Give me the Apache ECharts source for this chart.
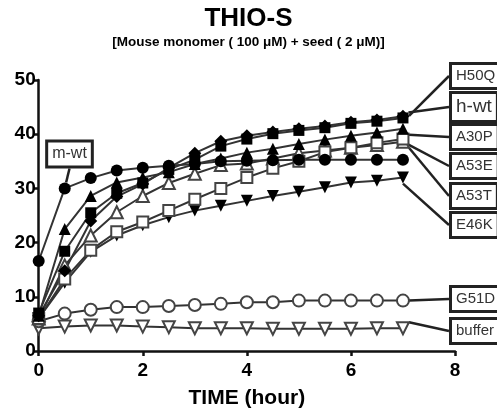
<!DOCTYPE html>
<html>
<head>
<meta charset="utf-8">
<script src="https://cdn.jsdelivr.net/npm/echarts@6/dist/echarts.min.js"></script>
<style>
html,body{margin:0;padding:0;background:#fff;}
#main{width:497px;height:414px;}
</style>
</head>
<body>
<div id="main"></div>
<script>
// ---- data ----
const times = [0, 0.5, 1, 1.5, 2, 2.5, 3, 3.5, 4, 4.5, 5, 5.5, 6, 6.5, 7];
const mwt    = [16.6, 30.0, 31.9, 33.3, 33.8, 34.2, 34.5, 35.0, 35.1, 35.2, 35.3, 35.3, 35.3, 35.3, 35.3];
const h50q   = [6.5, 14.8, 24.0, 28.5, 30.8, 33.8, 36.5, 38.7, 39.7, 40.4, 41.0, 41.5, 42.2, 42.6, 43.3];
const hwt    = [7.0, 18.4, 25.5, 29.1, 31.0, 33.5, 35.3, 37.8, 39.1, 40.1, 40.7, 41.2, 42.0, 42.4, 43.0];
const a30p   = [6.5, 22.5, 28.6, 31.1, 32.0, 33.0, 34.5, 35.5, 36.6, 37.3, 38.2, 39.0, 39.7, 40.3, 41.0];
const a53e   = [6.0, 13.3, 18.6, 22.0, 23.8, 25.9, 28.0, 30.0, 32.0, 33.7, 35.0, 36.7, 37.5, 38.4, 39.1];
const a53t   = [6.0, 15.8, 21.3, 25.6, 28.6, 31.0, 32.7, 34.3, 34.6, 35.5, 36.5, 37.0, 37.5, 38.0, 38.6];
const e46k   = [6.0, 12.6, 18.3, 21.3, 23.2, 24.7, 25.9, 26.8, 27.7, 28.6, 29.4, 30.2, 31.1, 31.4, 32.0];
const g51d   = [5.5, 6.9, 7.6, 8.1, 8.1, 8.3, 8.5, 8.7, 9.0, 9.0, 9.3, 9.3, 9.3, 9.3, 9.3];
const buffer = [4.2, 4.5, 4.7, 4.7, 4.5, 4.4, 4.2, 4.2, 4.2, 4.1, 4.1, 4.1, 4.1, 4.2, 4.2];
const xTicks = [0, 2, 4, 6, 8];
const yTicks = [0, 10, 20, 30, 40, 50];

// ---- styling / layout ----
const FONT = 'Liberation Sans, Arial, sans-serif';
const LINE = '#333';
const seriesDefs = [
  {name: 'buffer', data: buffer, symbol: 'triangle', rot: 180, filled: false, size: 12, labelIdx: 14, lx: 452, ly: 331, fs: 15},
  {name: 'G51D',   data: g51d,   symbol: 'circle',   rot: 0,   filled: false, size: 12, labelIdx: 14, lx: 452, ly: 299, fs: 15},
  {name: 'E46K',   data: e46k,   symbol: 'triangle', rot: 180, filled: true,  size: 12, labelIdx: 14, lx: 452, ly: 225, fs: 15},
  {name: 'A53T',   data: a53t,   symbol: 'triangle', rot: 0,   filled: false, size: 12, labelIdx: 14, lx: 452, ly: 196, fs: 15},
  {name: 'A53E',   data: a53e,   symbol: 'rect',     rot: 0,   filled: false, size: 11, labelIdx: 14, lx: 452, ly: 166, fs: 15},
  {name: 'A30P',   data: a30p,   symbol: 'triangle', rot: 0,   filled: true,  size: 12, labelIdx: 14, lx: 452, ly: 137, fs: 15},
  {name: 'm-wt',   data: mwt,    symbol: 'circle',   rot: 0,   filled: true,  size: 12, labelIdx: 1,  lx: 69.5, ly: 154, fs: 16, center: true},
  {name: 'h-wt',   data: hwt,    symbol: 'rect',     rot: 0,   filled: true,  size: 11, labelIdx: 14, lx: 452, ly: 107, fs: 19},
  {name: 'H50Q',   data: h50q,   symbol: 'diamond',  rot: 0,   filled: true,  size: 13, labelIdx: 14, lx: 452, ly: 76,  fs: 15}
];

const chart = echarts.init(document.getElementById('main'), null, {renderer: 'canvas'});

const series = seriesDefs.map(function (d) {
  const items = times.map(function (t, i) {
    const it = {value: [t, d.data[i]]};
    if (i === d.labelIdx) {
      it.label = {
        show: true,
        formatter: d.name,
        fontFamily: FONT,
        fontSize: d.fs,
        color: '#333',
        backgroundColor: '#fff',
        borderColor: '#222',
        borderWidth: 3,
        padding: [3, 4, 2, 4],
        lineHeight: d.fs + 2
      };
    }
    return it;
  });
  return {
    type: 'line',
    name: d.name,
    data: items,
    symbol: d.symbol,
    symbolRotate: d.rot,
    symbolSize: d.size,
    showAllSymbol: true,
    lineStyle: {color: LINE, width: 2},
    itemStyle: d.filled ? {color: '#000', borderColor: '#000', borderWidth: 0}
                        : {color: '#fff', borderColor: '#444', borderWidth: 2},
    label: {show: false},
    labelLine: {show: true, lineStyle: {color: '#222', width: 2.5}},
    labelLayout: function () {
      return {x: d.lx, y: d.ly, align: d.center ? 'center' : 'left', verticalAlign: 'middle'};
    },
    emphasis: {disabled: true},
    animation: false,
    z: 2
  };
});

const option = {
  animation: false,
  title: {
    text: 'THIO-S',
    subtext: '[Mouse monomer ( 100 \u03bcM) + seed ( 2 \u03bcM)]',
    left: 'center',
    top: 1,
    itemGap: 3,
    textStyle: {fontFamily: FONT, fontSize: 26, fontWeight: 'bold', color: '#000'},
    subtextStyle: {fontFamily: FONT, fontSize: 13.5, fontWeight: 'bold', color: '#000'}
  },
  grid: {left: 38.7, right: 42, top: 80, bottom: 60, containLabel: false},
  xAxis: {
    type: 'value', min: xTicks[0], max: xTicks[xTicks.length - 1], interval: xTicks[1] - xTicks[0],
    name: 'TIME (hour)', nameLocation: 'middle', nameGap: 37,
    nameTextStyle: {fontFamily: FONT, fontSize: 21, fontWeight: 'bold', color: '#000'},
    axisLine: {show: true, onZero: false, lineStyle: {color: '#111', width: 2.5}},
    axisTick: {show: true, inside: false, length: 5, lineStyle: {color: '#111', width: 2.5}},
    axisLabel: {fontFamily: FONT, fontSize: 19, fontWeight: 'bold', color: '#000', margin: 10},
    splitLine: {show: false}
  },
  yAxis: {
    type: 'value', min: yTicks[0], max: yTicks[yTicks.length - 1], interval: yTicks[1] - yTicks[0],
    axisLine: {show: true, onZero: false, lineStyle: {color: '#111', width: 2.5}},
    axisTick: {show: true, inside: false, length: 5, lineStyle: {color: '#111', width: 2.5}},
    axisLabel: {fontFamily: FONT, fontSize: 19, fontWeight: 'bold', color: '#000', margin: 3},
    splitLine: {show: false}
  },
  series: series
};
chart.setOption(option);
</script>
</body>
</html>
